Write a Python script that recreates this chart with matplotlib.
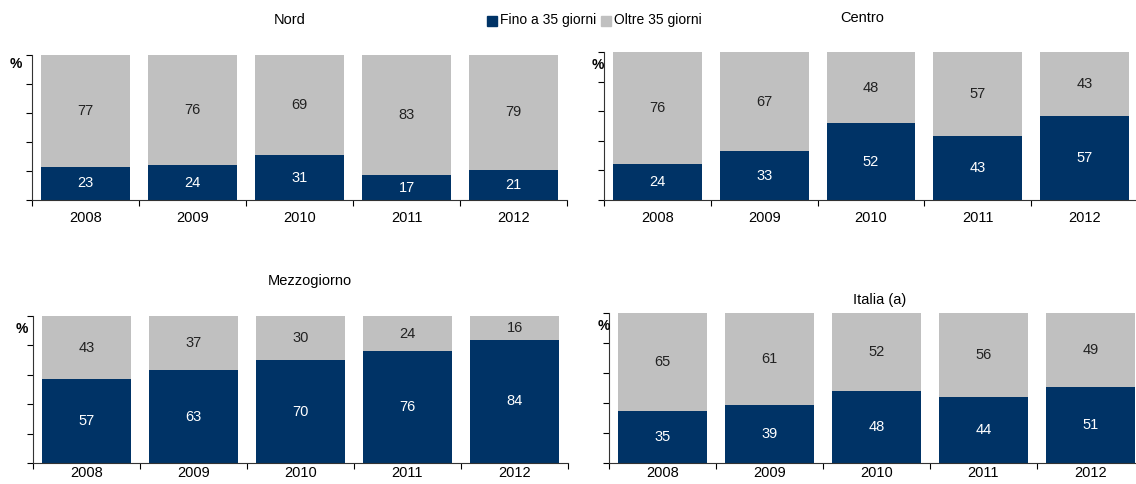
import numpy as np
import matplotlib.pyplot as plt

years = ["2008", "2009", "2010", "2011", "2012"]
nord = [23, 24, 31, 17, 21]
centro = [24, 33, 52, 43, 57]
mezzogiorno = [57, 63, 70, 76, 84]
italia = [35, 39, 48, 44, 51]

panels = [
    ("Nord", nord),
    ("Centro", centro),
    ("Mezzogiorno", mezzogiorno),
    ("Italia (a)", italia),
]

dark = "#003366"
grey = "#c0c0c0"

W, H = 1136, 484
fig = plt.figure(figsize=(W / 100, H / 100), dpi=100)
plt.rcParams["font.family"] = ["Liberation Sans", "DejaVu Sans"]

# axes boxes in pixels: left, top, right, bottom
boxes = [
    (32, 55, 567, 200),
    (604, 52, 1138, 200),
    (33, 316, 568, 463),
    (609, 313, 1144, 463),
]
title_pos = [(290, 20), (862, 18), (310, 281), (880, 300)]
pct_pos = [(16, 64), (598, 65), (22, 329), (604, 326)]
pads = [8, 8, 2, 2]

for (name, vals), (l, t, r, b), (tx, ty), (px, py), pad in zip(panels, boxes, title_pos, pct_pos, pads):
    ax = fig.add_axes([l / W, 1 - b / H, (r - l) / W, (b - t) / H])
    vals = np.array(vals)
    rest = 100 - vals
    x = np.arange(len(years))
    ax.bar(x, vals, width=0.83, color=dark, edgecolor="none")
    ax.bar(x, rest, bottom=vals, width=0.83, color=grey, edgecolor="none")
    for xi, v, o in zip(x, vals, rest):
        ax.text(xi, v / 2, str(v), ha="center", va="center", color="white", fontsize=10.5)
        ax.text(xi, v + o / 2, str(o), ha="center", va="center", color="#222222", fontsize=10.5)
    ax.set_xlim(-0.5, len(years) - 0.5)
    ax.set_ylim(0, 100)
    ax.set_xticks(x)
    ax.set_xticklabels(years, fontsize=10.5)
    ax.set_xticks(np.arange(-0.5, len(years)), minor=True)
    ax.tick_params(axis="x", which="major", length=0, pad=pad)
    ax.tick_params(axis="x", which="minor", length=4, width=0.8, direction="out")
    ax.set_yticks(np.arange(0, 101, 20))
    ax.set_yticklabels([])
    ax.tick_params(axis="y", length=4, width=0.8, direction="out")
    for s in ["top", "right"]:
        ax.spines[s].set_visible(False)
    for s in ["left", "bottom"]:
        ax.spines[s].set_color("#333333")
        ax.spines[s].set_linewidth(0.8)
    fig.text(px / W, 1 - py / H, "%", ha="center", va="center",
             fontsize=10, fontweight="bold")
    fig.text(tx / W, 1 - ty / H, name, ha="center", va="center", fontsize=10.5)

# legend at top
fig.patches.append(plt.Rectangle((487 / W, 1 - 26 / H), 10 / W, 10 / H,
                                 transform=fig.transFigure, color=dark))
fig.text(500 / W, 1 - 20 / H, "Fino a 35 giorni", ha="left", va="center", fontsize=10)
fig.patches.append(plt.Rectangle((601 / W, 1 - 26 / H), 10 / W, 10 / H,
                                 transform=fig.transFigure, color=grey))
fig.text(614 / W, 1 - 20 / H, "Oltre 35 giorni", ha="left", va="center", fontsize=10)

fig.savefig("out.png", dpi=100)
